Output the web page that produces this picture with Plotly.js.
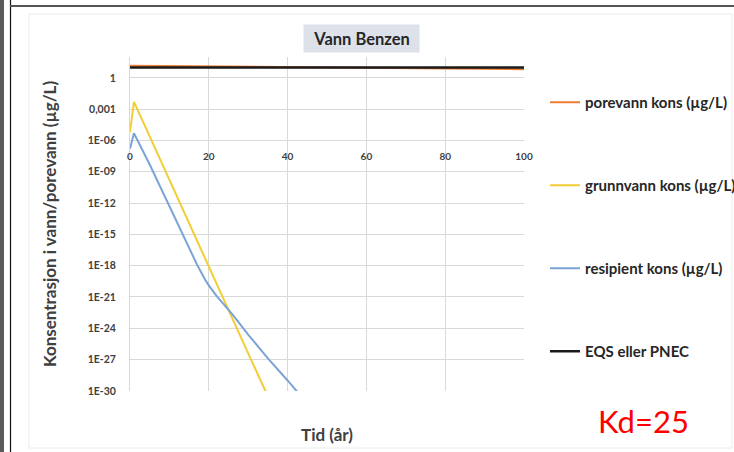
<!DOCTYPE html>
<html>
<head>
<meta charset="utf-8">
<script src="https://cdn.plot.ly/plotly-3.0.1.min.js"></script>
<style>
html,body{margin:0;padding:0;background:#fff;}
#chart{width:734px;height:452px;}
</style>
</head>
<body>
<div id="chart"></div>
<script>
// ---- data ----
const poreYears = [0, 10, 20, 30, 40, 50, 60, 70, 80, 90, 100];
const poreValues = [14.5, 13.2, 12.3, 11.4, 10.6, 9.8, 9.1, 8.5, 7.9, 7.3, 6.8];

const grunnYears = [0, 1, 5, 10, 15, 20, 25, 30, 35, 40];
const grunnValues = [6e-6, 5e-3, 2.5e-6, 1.6e-10, 1.3e-14, 8e-19, 6e-23, 4e-27, 3e-31, 2e-35];

const resipYears = [0, 1, 5, 10, 15, 17, 19, 20, 22, 24, 26, 30, 35, 40, 45];
const resipValues = [1.6e-7, 5e-6, 5e-9, 5e-13, 5e-17, 1.3e-18, 5e-20, 1.3e-20, 1.2e-21, 1.6e-22, 2.2e-23, 2.5e-25, 1.3e-27, 1e-29, 6e-32];

const eqsYears = [0, 100];
const eqsValues = [10, 10];

const xTicks = [0, 20, 40, 60, 80, 100];
const yTickVals = [1e-30, 1e-27, 1e-24, 1e-21, 1e-18, 1e-15, 1e-12, 1e-9, 1e-6, 1e-3, 1];
const yTickText = ["1E-30", "1E-27", "1E-24", "1E-21", "1E-18", "1E-15", "1E-12", "1E-09", "1E-06", "0,001", "1"];

const seriesNames = ["porevann kons (\u00b5g/L)", "grunnvann kons (\u00b5g/L)", "resipient kons (\u00b5g/L)", "EQS eller PNEC"];

// ---- layout helpers (pixel -> paper) ----
const L = 130, R = 524, T = 57, B = 391;
const px = x => (x - L) / (R - L);
const py = y => (B - y) / (B - T);

const FONT = "Lato, 'Open Sans', sans-serif";

const traces = [
  {x: poreYears, y: poreValues, name: seriesNames[0], legendgroup: "a", mode: "lines",
   line: {color: "#ED7D31", width: 2}},
  {x: grunnYears, y: grunnValues, name: seriesNames[1], legendgroup: "b", mode: "lines",
   line: {color: "#F2CD35", width: 2}},
  {x: resipYears, y: resipValues, name: seriesNames[2], legendgroup: "c", mode: "lines",
   line: {color: "#7BA4D6", width: 2}},
  {x: eqsYears, y: eqsValues, name: seriesNames[3], legendgroup: "d", mode: "lines",
   line: {color: "#1a1a1a", width: 2.5}}
];

const layout = {
  width: 734, height: 452,
  margin: {l: L, r: 734 - R, t: T, b: 452 - B, autoexpand: false},
  paper_bgcolor: "#fff", plot_bgcolor: "#fff",
  showlegend: true,
  font: {family: FONT, color: "#404040"},
  xaxis: {
    range: [0, 100], tickvals: xTicks, ticktext: xTicks.map(String),
    anchor: "free", position: py(149),
    showgrid: true, gridcolor: "#d9d9d9", gridwidth: 1,
    zeroline: false, showline: false, ticks: "",
    tickfont: {family: FONT, size: 10, color: "#404040", weight: "bold"},
    title: {text: "Tid (\u00e5r)", font: {family: FONT, size: 17, color: "#404040", weight: "bold"}, standoff: 268},
    automargin: false, fixedrange: true
  },
  yaxis: {
    type: "log", range: [-30.01, 2],
    tickvals: yTickVals, ticktext: yTickText,
    showgrid: true, gridcolor: "#d9d9d9", gridwidth: 1,
    showline: true, linecolor: "#d9d9d9", linewidth: 1,
    zeroline: false, ticks: "", ticklabelstandoff: 11,
    tickfont: {family: FONT, size: 10.5, color: "#404040", weight: "bold"},
    title: {text: "Konsentrasjon i vann/porevann (\u00b5g/L)", font: {family: FONT, size: 17, color: "#404040", weight: "bold"}, standoff: 26},
    automargin: false, fixedrange: true
  },
  legend: {
    x: px(545), xanchor: "left", y: py(86), yanchor: "top",
    traceorder: "grouped", tracegroupgap: 60.5,
    font: {family: FONT, size: 15, color: "#262626", weight: "bold"},
    bgcolor: "rgba(0,0,0,0)", itemwidth: 30
  },
  annotations: [
    {xref: "paper", yref: "paper", x: px(361), y: py(39), xanchor: "center", yanchor: "middle",
     text: "Vann Benzen", showarrow: false, bgcolor: "#dde2ea", width: 113, height: 25,
     font: {family: FONT, size: 16.5, color: "#262626", weight: "bold"}},
    {xref: "paper", yref: "paper", x: px(643), y: py(421), xanchor: "center", yanchor: "middle",
     text: "Kd=25", showarrow: false,
     font: {family: FONT, size: 31, color: "#ff0000"}}
  ],
  shapes: [
    {type: "rect", xref: "paper", yref: "paper", x0: px(29), x1: px(732), y0: py(14), y1: py(448),
     line: {color: "#ececec", width: 1}, fillcolor: "rgba(0,0,0,0)", layer: "below"},
    {type: "rect", xref: "paper", yref: "paper", x0: px(0), x1: px(4), y0: py(0), y1: py(452),
     line: {width: 0}, fillcolor: "#5c5c5c"},
    {type: "line", xref: "paper", yref: "paper", x0: px(10.5), x1: px(10.5), y0: py(0), y1: py(452),
     line: {color: "#111", width: 1.2}},
    {type: "line", xref: "paper", yref: "paper", x0: px(10), x1: px(734), y0: py(6), y1: py(6),
     line: {color: "#555", width: 2}}
  ]
};

Plotly.newPlot("chart", traces, layout, {displayModeBar: false, staticPlot: true});
</script>
</body>
</html>
